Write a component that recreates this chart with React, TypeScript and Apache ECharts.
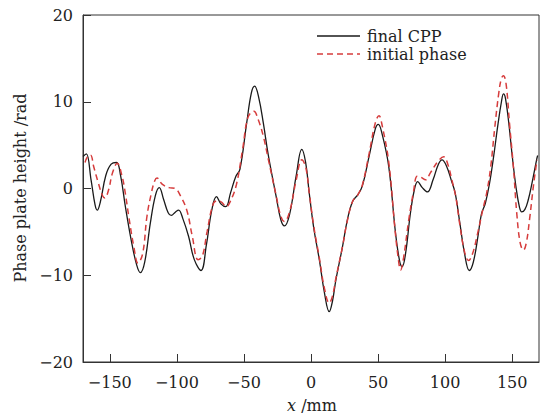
import React, { useEffect, useRef } from "react";
import * as echarts from "echarts";

const xTicks = [-150, -100, -50, 0, 50, 100, 150];

const finalX = [
  -170, -167.5, -164, -161, -159.4, -157, -153, -149, -145, -142, -138.4, -134, -130, -127.2, -124, -119.8,
  -116, -113.1, -110, -106.5, -104.2, -101, -98.7, -95.5, -91.3, -87, -82, -78, -74, -70.5, -67, -63.5,
  -60, -56, -53, -48, -44.5, -42, -39, -35.5, -32, -26, -22.5, -19.8, -16, -11, -6.9, -4,
  -1.3, 2, 6.2, 10, 13.6, 16, 18.6, 23.5, 27, 31, 35, 38.3, 43.3, 48, 50.2, 53,
  58, 63, 66, 68, 70.5, 74, 77, 79.5, 83, 86.8, 91, 95, 97.7, 101, 104.5, 107.6,
  111, 114.5, 118, 121, 124.5, 127, 130, 133, 136, 139.5, 142, 143.5, 145, 147.5, 150, 153,
  155.5, 157.1, 159.5, 162, 165, 168.2, 169,
];
const finalY = [
  3.7, 4.0, 1.0, -1.9, -2.5, -1.5, 1.5, 2.8, 3.0, 1.5, -2.1, -6.0, -8.8, -9.7, -8.5, -4.0,
  -0.8, 0.1, -1.2, -2.8, -3.1, -2.7, -2.5, -3.5, -5.5, -8.2, -9.45, -6.5, -2.5, -0.94, -1.8, -2.1,
  -0.5, 1.4, 2.2, 7.5, 11.0, 11.8, 10.5, 7.5, 4.0, -0.9, -3.6, -4.3, -3.0, 1.5, 4.5, 3.0,
  -0.55, -4.5, -8.2, -12.0, -14.2, -13.0, -10.5, -6.7, -3.7, -1.5, -0.7, 0.3, 3.7, 6.9, 7.4, 6.3,
  2.5, -5.1, -8.3, -9.0, -7.5, -3.0, -0.2, 0.8, 0.1, -0.4, 1.0, 2.8, 3.3, 2.6, 1.0, -0.6,
  -4.0, -7.5, -9.45, -8.5, -5.5, -3.0, -1.7, 0.5, 3.5, 7.5, 10.0, 10.9, 10.4, 7.5, 3.8, 0.0,
  -2.2, -2.7, -2.4, -1.3, 0.8, 3.3, 3.8,
];

const initX = [
  -168.5, -166.5, -164.4, -162, -158.5, -155.5, -153.7, -151, -148, -144.5, -141, -138.5, -135.9, -132, -129, -125.5,
  -122.3, -119, -116.5, -114.8, -111, -106, -101.3, -97.5, -92.6, -88.5, -84.2, -81, -77.5, -72.7, -69, -66.5,
  -63.1, -60.5, -55.7, -51, -47, -42.6, -39.5, -35.5, -32, -26, -22.5, -19.8, -16, -11, -6.9, -4,
  -1.3, 2, 6.2, 10, 13.6, 16, 18.6, 23.5, 27, 31, 35, 38.3, 43.3, 48, 50.7, 53,
  58, 62.5, 65, 66.8, 69, 73, 76.5, 79.2, 82, 85.4, 89, 95, 99, 102, 105, 108,
  111, 114.5, 117.5, 120.5, 124.5, 128, 131, 134, 137, 140, 142, 143.5, 145.5, 148, 150.9, 153.5,
  156, 158.4, 160.5, 163, 166, 168.5,
];
const initY = [
  3.0, 3.7, 3.85, 2.5, 0.6, -0.8, -1.1, -0.2, 1.8, 2.9, 1.5, -0.5, -3.2, -6.8, -8.6, -7.5,
  -3.2, -0.5, 0.9, 1.2, 0.5, 0.1, 0.0, -0.8, -2.5, -5.5, -8.2, -7.8, -5.0, -1.7, -1.4, -1.6,
  -2.1, -1.6, 0.4, 4.5, 8.2, 8.9, 8.0, 6.0, 3.5, -0.8, -3.2, -3.8, -2.7, 1.0, 3.3, 2.5,
  -0.5, -4.3, -8.0, -11.5, -13.2, -12.4, -10.3, -6.7, -3.8, -1.5, -0.7, 0.4, 4.0, 7.6, 8.4, 7.3,
  3.0, -4.5, -8.0, -9.4, -8.0, -3.5, -0.3, 1.4, 1.3, 1.0, 1.8, 3.2, 3.65, 2.8, 1.0, -1.0,
  -4.2, -7.3, -8.3, -7.5, -5.0, -2.5, -0.5, 2.5, 7.0, 11.0, 12.7, 13.0, 12.0, 7.5, 2.5, -3.0,
  -6.3, -7.1, -6.3, -3.5, 0.5, 3.3,
];

const FONT = "DejaVu Serif";
const fmt = (v: number) => String(v).replace("-", "\u2212");

export default function App() {
  const ref = useRef<HTMLDivElement>(null);
  useEffect(() => {
    if (!ref.current) return;
    const chart = echarts.init(ref.current, undefined, { renderer: "svg" });
    const finalData = finalX.map((x, i) => [x, finalY[i]]);
    const initData = initX.map((x, i) => [x, initY[i]]);
    chart.setOption({
      animation: false,
      backgroundColor: "#ffffff",
      grid: {
        left: 83,
        right: 2,
        top: 15,
        bottom: 53,
        show: true,
        borderColor: "#333",
        borderWidth: 1,
        backgroundColor: "transparent",
      },
      xAxis: {
        type: "value",
        min: -170,
        max: 170,
        axisLine: { show: true, onZero: false, lineStyle: { color: "#333", width: 1 } },
        axisTick: { show: true, inside: true, length: 8, customValues: xTicks, lineStyle: { color: "#333" } },
        axisLabel: {
          customValues: xTicks,
          formatter: (v: number) => fmt(v),
          color: "#222",
          fontFamily: FONT,
          fontSize: 16,
          margin: 12,
        },
        splitLine: { show: false },
      },
      yAxis: {
        type: "value",
        min: -20,
        max: 20,
        interval: 10,
        axisLine: { show: true, onZero: false, lineStyle: { color: "#333", width: 1 } },
        axisTick: { show: true, inside: true, length: 8, lineStyle: { color: "#333" } },
        axisLabel: {
          formatter: (v: number) => fmt(v),
          color: "#222",
          fontFamily: FONT,
          fontSize: 16,
          margin: 10,
        },
        splitLine: { show: false },
      },
      series: [
        {
          name: "final CPP",
          type: "line",
          data: finalData,
          smooth: 0.4,
          showSymbol: false,
          lineStyle: { color: "#1a1a1a", width: 1.3 },
        },
        {
          name: "initial phase",
          type: "line",
          data: initData,
          smooth: 0.4,
          showSymbol: false,
          lineStyle: { color: "#d63c3c", width: 1.5, type: [6, 4] },
        },
      ],
      graphic: [
        {
          type: "line",
          shape: { x1: 317, y1: 36, x2: 360, y2: 36 },
          style: { stroke: "#1a1a1a", lineWidth: 1.3 },
        },
        {
          type: "text",
          x: 367,
          y: 36,
          style: { text: "final CPP", font: `16px "${FONT}"`, fill: "#222", verticalAlign: "middle", align: "left" },
        },
        {
          type: "line",
          shape: { x1: 317, y1: 54, x2: 360, y2: 54 },
          style: { stroke: "#d63c3c", lineWidth: 1.5, lineDash: [6, 4] },
        },
        {
          type: "text",
          x: 367,
          y: 54,
          style: { text: "initial phase", font: `16px "${FONT}"`, fill: "#222", verticalAlign: "middle", align: "left" },
        },
        {
          type: "text",
          x: 20,
          y: 188,
          rotation: Math.PI / 2,
          style: {
            text: "Phase plate height /rad",
            font: `16px "${FONT}"`,
            fill: "#222",
            align: "center",
            verticalAlign: "middle",
          },
        },
        {
          type: "text",
          x: 312,
          y: 405,
          style: {
            text: "{i|x} /mm",
            font: `16px "${FONT}"`,
            fill: "#222",
            align: "center",
            verticalAlign: "middle",
            rich: {
              i: { fontStyle: "italic", fontFamily: FONT, fontSize: 16, fill: "#222" },
            },
          },
        },
      ],
    });
    return () => chart.dispose();
  }, []);
  return <div ref={ref} style={{ width: 541, height: 415, position: "absolute", left: 0, top: 0 }} />;
}
